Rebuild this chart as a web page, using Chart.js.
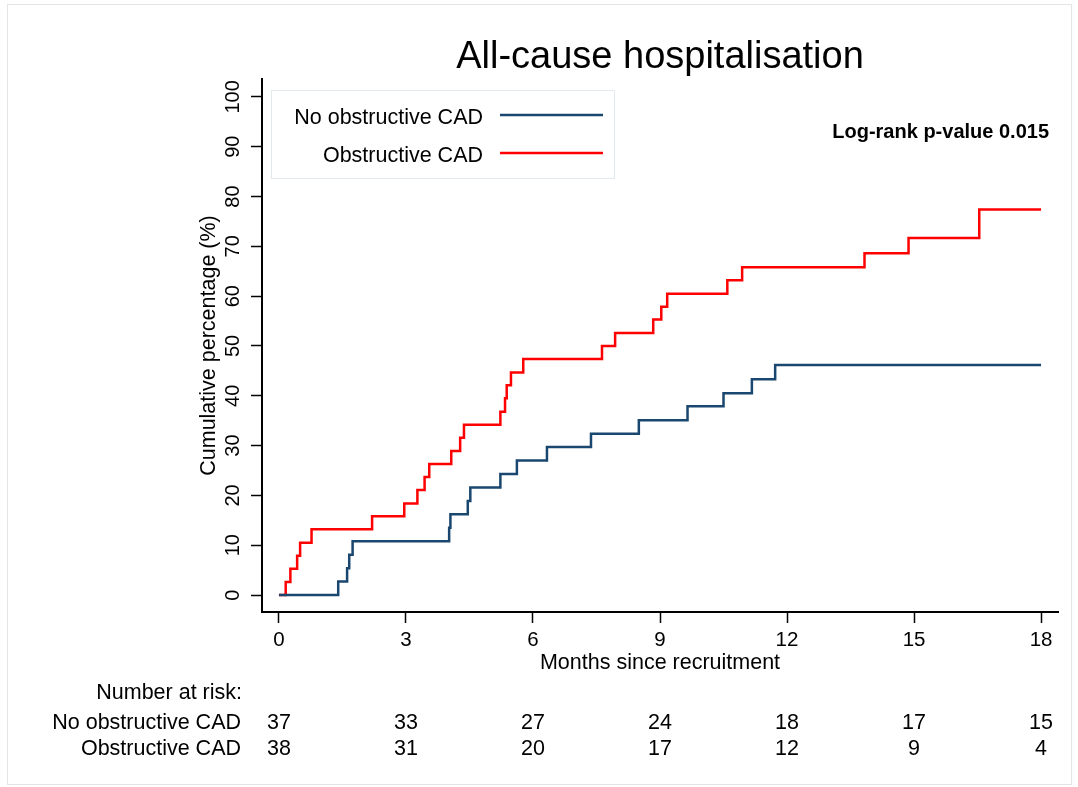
<!DOCTYPE html>
<html>
<head>
<meta charset="utf-8">
<title>All-cause hospitalisation</title>
<script src="https://cdn.jsdelivr.net/npm/chart.js@4.4.1/dist/chart.umd.min.js"></script>
<style>
  html, body { margin: 0; padding: 0; background: #ffffff; }
  canvas { display: block; }
</style>
</head>
<body>
<canvas id="km" width="1078" height="787"></canvas>
<script>
// ---- Data -------------------------------------------------------------
const chartTitle = 'All-cause hospitalisation';
const seriesNames = ['No obstructive CAD', 'Obstructive CAD'];
const pValueText = 'Log-rank p-value 0.015';

// x-axis ticks (months) and y-axis ticks (%)
const monthTicks = [0, 3, 6, 9, 12, 15, 18];
const percentTicks = [0, 10, 20, 30, 40, 50, 60, 70, 80, 90, 100];

// Kaplan-Meier cumulative incidence (event times in months, % with event)
const noObsTimes = [0, 1.40, 1.61, 1.66, 1.74, 4.02, 4.05, 4.46, 4.52, 5.23, 5.62, 6.33, 7.37, 8.50, 9.65, 10.50, 11.17, 11.72, 18];
const noObsPct   = [0, 2.7, 5.4, 8.1, 10.8, 13.5, 16.2, 18.9, 21.6, 24.3, 27.0, 29.7, 32.4, 35.1, 37.9, 40.5, 43.3, 46.2, 46.2];

const obsTimes = [0, 0.16, 0.27, 0.43, 0.50, 0.77, 2.20, 2.96, 3.27, 3.44, 3.55, 4.07, 4.28, 4.37, 5.23, 5.34, 5.38, 5.48, 5.77, 7.63, 7.94, 8.84, 9.03, 9.17, 10.59, 10.94, 13.83, 14.87, 16.54, 18];
const obsPct   = [0, 2.6, 5.3, 7.9, 10.5, 13.2, 15.8, 18.4, 21.1, 23.7, 26.3, 28.9, 31.6, 34.2, 36.8, 39.5, 42.1, 44.7, 47.4, 50.0, 52.6, 55.3, 57.9, 60.5, 63.2, 65.8, 68.6, 71.7, 77.4, 77.4];

// Number at risk at each month tick
const riskNoObs = [37, 33, 27, 24, 18, 17, 15];
const riskObs   = [38, 31, 20, 17, 12, 9, 4];

// ---- Styling ----------------------------------------------------------
const FONT = "'Liberation Sans', Arial, Helvetica, sans-serif";
const NAVY = '#1a476f';
const RED = '#ff0000';

const toPoints = (xs, ys) => xs.map((x, i) => ({ x: x, y: ys[i] }));

// Title, legend, p-value and the number-at-risk table
const annotationPlugin = {
  id: 'kmAnnotations',
  afterDraw(chart) {
    const { ctx, chartArea, scales } = chart;
    const x = scales.x;
    ctx.save();

    // light outer frame of the graph region
    ctx.strokeStyle = '#e4e4e4';
    ctx.lineWidth = 1;
    ctx.strokeRect(7.5, 4.5, 1064, 780);

    ctx.fillStyle = '#000';
    ctx.textBaseline = 'alphabetic';

    // title
    ctx.font = `38px ${FONT}`;
    ctx.textAlign = 'center';
    ctx.fillText(chartTitle, (chartArea.left + chartArea.right) / 2, 68);

    // legend box
    ctx.strokeStyle = '#e3eaee';
    ctx.lineWidth = 1;
    ctx.strokeRect(271.5, 90.5, 343, 88);
    const legendRows = [
      { name: seriesNames[0], color: NAVY, y: 116 },
      { name: seriesNames[1], color: RED, y: 154 }
    ];
    ctx.font = `21.5px ${FONT}`;
    ctx.textAlign = 'right';
    legendRows.forEach(r => {
      ctx.fillStyle = '#000';
      ctx.fillText(r.name, 483, r.y + 8);
      ctx.strokeStyle = r.color;
      ctx.lineWidth = 2.5;
      ctx.beginPath();
      ctx.moveTo(500, r.y - 1);
      ctx.lineTo(603, r.y - 1);
      ctx.stroke();
    });

    // log-rank p-value
    ctx.fillStyle = '#000';
    ctx.font = `bold 20px ${FONT}`;
    ctx.textAlign = 'right';
    ctx.fillText(pValueText, 1049, 138);

    // number at risk table
    ctx.font = `21.5px ${FONT}`;
    ctx.textAlign = 'right';
    ctx.fillText('Number at risk:', 242, 699);
    const rows = [
      { name: seriesNames[0], values: riskNoObs, y: 729 },
      { name: seriesNames[1], values: riskObs, y: 755 }
    ];
    rows.forEach(r => {
      ctx.textAlign = 'right';
      ctx.fillText(r.name, 241, r.y);
      ctx.textAlign = 'center';
      r.values.forEach((v, i) => {
        ctx.fillText(String(v), x.getPixelForValue(monthTicks[i]), r.y);
      });
    });

    ctx.restore();
  }
};

const ctx = document.getElementById('km').getContext('2d');
new Chart(ctx, {
  type: 'line',
  data: {
    datasets: [
      {
        label: seriesNames[0],
        data: toPoints(noObsTimes, noObsPct),
        borderColor: NAVY,
        borderWidth: 2.5,
        stepped: true,
        pointRadius: 0,
        fill: false
      },
      {
        label: seriesNames[1],
        data: toPoints(obsTimes, obsPct),
        borderColor: RED,
        borderWidth: 2.5,
        stepped: true,
        pointRadius: 0,
        fill: false
      }
    ]
  },
  options: {
    responsive: false,
    animation: false,
    devicePixelRatio: 1,
    layout: { padding: { left: 0, right: 20, top: 79, bottom: 0 } },
    plugins: {
      legend: { display: false },
      tooltip: { enabled: false },
      title: { display: false }
    },
    scales: {
      x: {
        type: 'linear',
        min: -0.4,
        max: 18.4,
        afterBuildTicks: s => { s.ticks = monthTicks.map(v => ({ value: v })); },
        afterFit: s => { s.height = 175; },
        grid: { display: true, drawOnChartArea: false, drawTicks: true, tickLength: 11, tickColor: '#000', tickWidth: 1.5 },
        border: { display: true, color: '#000', width: 2 },
        ticks: { font: { family: FONT, size: 20.5 }, color: '#000', padding: 5, maxRotation: 0, autoSkip: false },
        title: { display: true, text: 'Months since recruitment', color: '#000', font: { family: FONT, size: 21.5 }, padding: { top: 0, bottom: 111 } }
      },
      y: {
        type: 'linear',
        min: -3.4,
        max: 103.6,
        afterBuildTicks: s => { s.ticks = percentTicks.map(v => ({ value: v })); },
        afterFit: s => { s.width = 262; },
        grid: { display: true, drawOnChartArea: false, drawTicks: true, tickLength: 11, tickColor: '#000', tickWidth: 1.5 },
        border: { display: true, color: '#000', width: 2 },
        ticks: { font: { family: FONT, size: 20 }, color: '#000', padding: 1, minRotation: 90, maxRotation: 90, crossAlign: 'center', autoSkip: false },
        title: { display: true, text: 'Cumulative percentage (%)', color: '#000', font: { family: FONT, size: 21.5 }, padding: { top: 196, bottom: 0 } }
      }
    }
  },
  plugins: [annotationPlugin]
});
</script>
</body>
</html>
